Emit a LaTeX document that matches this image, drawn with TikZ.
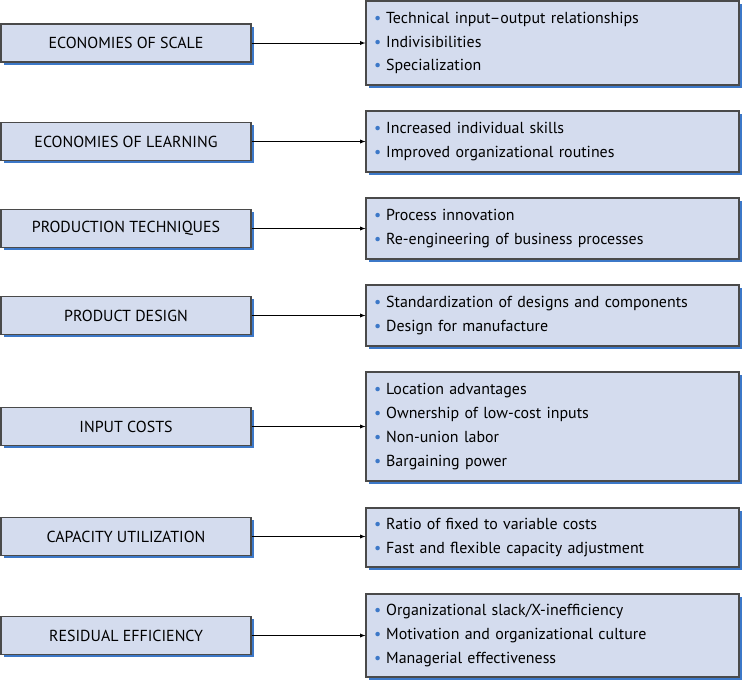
\documentclass[tikz,border=0pt]{standalone}
\usepackage{fontspec}
\setmainfont{PT Sans}
\usetikzlibrary{shadows}
\definecolor{BoxFill}{HTML}{D4DCEE}
\definecolor{BoxLine}{HTML}{4A4A4A}
\definecolor{ShadowBlue}{HTML}{3C78C8}
\newcommand\itm{{\color{ShadowBlue}\textbullet}\hspace{0.3em}}
\tikzstyle{boxstyle} = [rectangle, draw=BoxLine, fill=BoxFill, line width=0.9pt,
  drop shadow={shadow xshift=2.5pt, shadow yshift=-2.5pt, fill=ShadowBlue, opacity=1}]
\tikzstyle{src} = [boxstyle, minimum width=7.5cm, minimum height=1.14cm, font=\fontsize{13.6}{16}\selectfont]
\tikzstyle{lst} = [boxstyle, minimum width=11.19cm, text width=10.7cm, align=left, font=\fontsize{13.6}{20.4}\selectfont]
\tikzset{>=latex, every picture/.style={line width=0.6pt}}
\begin{document}
\begin{tikzpicture}
\useasboundingbox (0,0) rectangle (22.29,-20.46);
\node[src] (scale) at (3.78, -1.29) {ECONOMIES OF SCALE};
\node[src] (learn) at (3.78, -4.245) {ECONOMIES OF LEARNING};
\node[src] (tech) at (3.78, -6.855) {PRODUCTION TECHNIQUES};
\node[src] (design) at (3.78, -9.465) {PRODUCT DESIGN};
\node[src] (input) at (3.78, -12.795) {INPUT COSTS};
\node[src] (cap) at (3.78, -16.095) {CAPACITY UTILIZATION};
\node[src] (resid) at (3.78, -19.065) {RESIDUAL EFFICIENCY};
\node[lst, minimum height=2.52cm] (scalel) at (16.575, -1.29) {\itm Technical input–output relationships\\ \itm Indivisibilities\\ \itm Specialization};
\node[lst, minimum height=1.83cm] (learnl) at (16.575, -4.245) {\itm Increased individual skills\\ \itm Improved organizational routines};
\node[lst, minimum height=1.83cm] (techl) at (16.575, -6.855) {\itm Process innovation\\ \itm Re-engineering of business processes};
\node[lst, minimum height=1.83cm] (designl) at (16.575, -9.465) {\itm Standardization of designs and components\\ \itm Design for manufacture};
\node[lst, minimum height=3.27cm] (inputl) at (16.575, -12.795) {\itm Location advantages\\ \itm Ownership of low-cost inputs\\ \itm Non-union labor\\ \itm Bargaining power};
\node[lst, minimum height=1.77cm] (capl) at (16.575, -16.125) {\itm Ratio of fixed to variable costs\\ \itm Fast and flexible capacity adjustment};
\node[lst, minimum height=2.49cm] (residl) at (16.575, -19.065) {\itm Organizational slack/X-inefficiency\\ \itm Motivation and organizational culture\\ \itm Managerial effectiveness};
\draw [->] (scale) -- (scalel);
\draw [->] (learn) -- (learnl);
\draw [->] (tech) -- (techl);
\draw [->] (design) -- (designl);
\draw [->] (input) -- (inputl);
\draw [->] (cap) -- (cap -| capl.west);
\draw [->] (resid) -- (residl);
\end{tikzpicture}
\end{document}
